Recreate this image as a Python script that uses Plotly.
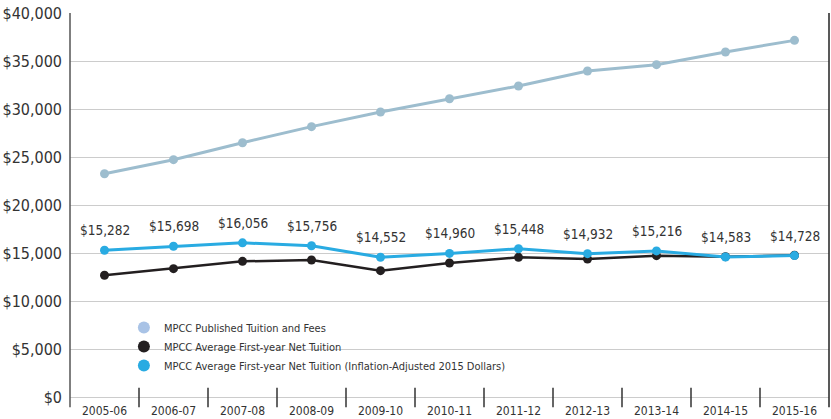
import plotly.graph_objects as go

# Academic years on the x axis
years = ["2005-06", "2006-07", "2007-08", "2008-09", "2009-10", "2010-11",
         "2011-12", "2012-13", "2013-14", "2014-15", "2015-16"]

# Series values (US dollars)
published = [23260, 24720, 26490, 28160, 29690, 31070, 32400, 33960, 34620, 35940, 37150]
net_tuition = [12680, 13370, 14130, 14270, 13160, 13960, 14550, 14370, 14720, 14620, 14760]
net_adjusted = [15282, 15698, 16056, 15756, 14552, 14960, 15448, 14932, 15216, 14583, 14728]

# Y axis ticks
y_ticks = [0, 5000, 10000, 15000, 20000, 25000, 30000, 35000, 40000]
y_tick_text = ["$0", "$5,000", "$10,000", "$15,000", "$20,000", "$25,000",
               "$30,000", "$35,000", "$40,000"]

series_names = ["MPCC Published Tuition and Fees",
                "MPCC Average First-year Net Tuition",
                "MPCC Average First-year Net Tuition (Inflation-Adjusted 2015 Dollars)"]

FONT = "Liberation Sans Narrow, DejaVu Sans Condensed, Roboto, sans-serif"
C_PUB = "#9dbdce"
C_PUB_LEGEND = "#a9c3e6"
C_NET = "#231f20"
C_ADJ = "#29abe2"

fig = go.Figure()

fig.add_trace(go.Scatter(x=years, y=published, mode="lines+markers",
                         line=dict(color=C_PUB, width=3),
                         marker=dict(color=C_PUB, size=9), showlegend=False))
fig.add_trace(go.Scatter(x=years, y=net_tuition, mode="lines+markers",
                         line=dict(color=C_NET, width=2.5),
                         marker=dict(color=C_NET, size=9), showlegend=False))
fig.add_trace(go.Scatter(x=years, y=net_adjusted, mode="lines+markers",
                         line=dict(color=C_ADJ, width=3),
                         marker=dict(color=C_ADJ, size=9), showlegend=False))

# Marker-only legend entries
for name, col in zip(series_names, [C_PUB_LEGEND, C_NET, C_ADJ]):
    fig.add_trace(go.Scatter(x=[None], y=[None], mode="markers", name=name,
                             marker=dict(color=col, size=11)))

# Value labels above the inflation-adjusted series
for yr, v in zip(years, net_adjusted):
    fig.add_annotation(x=yr, y=v, text=f"${v:,}", showarrow=False, yshift=20,
                       font=dict(family=FONT, size=13.5, color="#333333"))

shapes = []
# Category separators crossing the baseline
for i in range(len(years) - 1):
    shapes.append(dict(type="line", xref="x", yref="paper", x0=i + 0.5, x1=i + 0.5,
                       y0=-0.027, y1=0.024, line=dict(color="#333333", width=1.5)))
# Left and right frame lines extending below the baseline
for xp, col in [(0, "#555555"), (1, "#222222")]:
    shapes.append(dict(type="line", xref="paper", yref="paper", x0=xp, x1=xp,
                       y0=-0.027, y1=1, line=dict(color=col, width=1.5)))
# White panel behind the legend
shapes.append(dict(type="rect", xref="paper", yref="paper", x0=0.076, x1=0.636,
                   y0=0.045, y1=0.225, fillcolor="white", line=dict(width=0),
                   layer="between"))

fig.update_layout(
    width=831, height=419,
    margin=dict(l=70, r=2, t=13, b=22, autoexpand=False),
    paper_bgcolor="white", plot_bgcolor="white",
    font=dict(family=FONT, color="#333333"),
    shapes=shapes,
    legend=dict(x=0.071, y=0.219, xanchor="left", yanchor="top",
                bgcolor="rgba(0,0,0,0)", font=dict(family=FONT, size=11, color="#333333"),
                tracegroupgap=0, itemsizing="constant"),
    xaxis=dict(type="category", range=[-0.5, len(years) - 0.5], showgrid=False,
               showline=False, ticks="", tickfont=dict(size=12, color="#333333"),
               ticklabelstandoff=5, automargin=False),
    yaxis=dict(range=[0, 40000], tickvals=y_ticks, ticktext=y_tick_text,
               showgrid=True, gridcolor="#cccccc", gridwidth=1,
               zeroline=True, zerolinecolor="#cccccc", zerolinewidth=1,
               showline=False, ticks="", tickfont=dict(size=16, color="#333333"),
               ticklabelstandoff=7, automargin=False),
)

fig.write_html("out.html")
